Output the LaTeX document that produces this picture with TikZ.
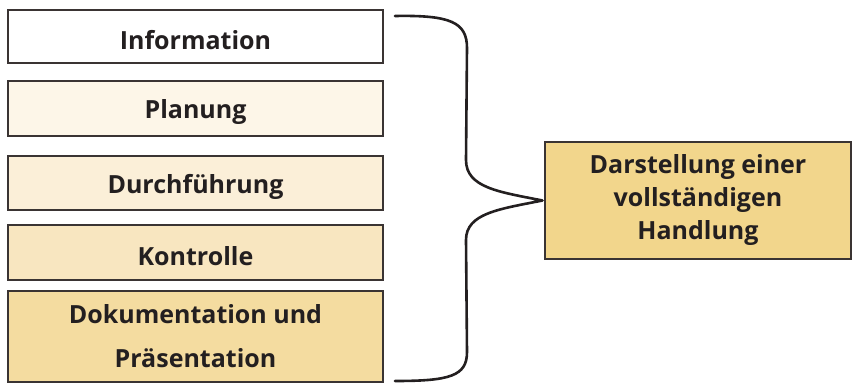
\documentclass[tikz,border=0pt]{standalone}
\usepackage{fontspec}
\setmainfont{Open Sans}
\definecolor{ink}{HTML}{231F20}
\definecolor{edge}{HTML}{3A3433}
\definecolor{fillA}{HTML}{FFFFFF}
\definecolor{fillB}{HTML}{FDF6E8}
\definecolor{fillC}{HTML}{FBEFD8}
\definecolor{fillD}{HTML}{F8E6C0}
\definecolor{fillE}{HTML}{F4DCA0}
\definecolor{fillF}{HTML}{F2D68C}
\newcommand{\lowered}[1]{\raisebox{-3.5pt}[\height][\depth]{#1}}
\tikzset{
  phase/.style={draw=edge, line width=1.1pt, minimum width=375pt, inner sep=0pt,
    text=ink, font=\bfseries\fontsize{25}{44}\selectfont, align=center},
  result/.style={draw=edge, line width=1.1pt, minimum width=306pt, minimum height=117pt,
    inner sep=0pt, fill=fillF, text=ink, font=\bfseries\fontsize{25}{33}\selectfont, align=center},
  bracket/.style={draw=ink, line width=2.6pt, line cap=round, line join=round}
}
\begin{document}
\begin{tikzpicture}[x=1pt, y=-1pt]
  \useasboundingbox (0,0) rectangle (852,383);
  % phases of a complete action
  \node[phase, fill=fillA, minimum height=53pt] (info) at (195.5,36.5) {\lowered{Information}};
  \node[phase, fill=fillB, minimum height=55pt] (plan) at (195.5,108.5) {\lowered{Planung}};
  \node[phase, fill=fillC, minimum height=54pt] (durch) at (195.5,183) {\lowered{Durchführung}};
  \node[phase, fill=fillD, minimum height=55pt] (kontr) at (195.5,252.5) {\lowered{Kontrolle}};
  \node[phase, fill=fillE, minimum height=91pt] (doku) at (195.5,336.5) {Dokumentation und\\Präsentation};
  % summary box
  \node[result] (rb) at (698,200.5) {Darstellung einer\\ vollständigen\\ Handlung};
  % curly bracket grouping the phases
  \coordinate (btop) at (395,16);
  \coordinate (bbot) at (395,381);
  \coordinate (tip) at ([xshift=-2pt]rb.west);
  \draw[bracket] (btop) .. controls (450,15) and (467,22) .. (467,48)
    -- (466,160) .. controls (466,188) and (500,192) .. (tip)
    .. controls (500,209) and (466,213) .. (466,240)
    -- (467,352) .. controls (467,376) and (450,381) .. (bbot);
\end{tikzpicture}
\end{document}
